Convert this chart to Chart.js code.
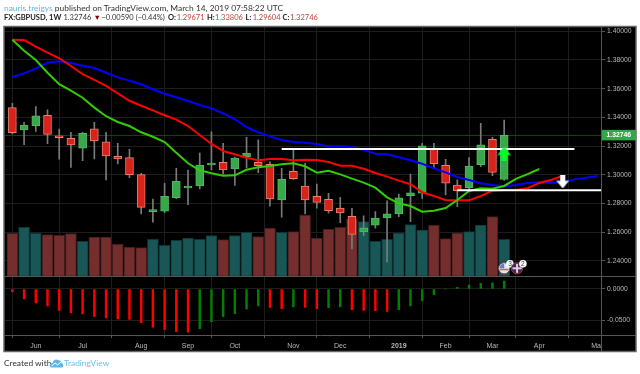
<!DOCTYPE html>
<html><head><meta charset="utf-8">
<style>
html,body{margin:0;padding:0;background:#fff;width:640px;height:374px;overflow:hidden;font-family:Lato,"Liberation Sans",Arial,sans-serif}
canvas{position:absolute;left:0;top:0}
.t{position:absolute;white-space:nowrap;font-size:7.5px;line-height:10px;color:#333;z-index:2}
.b{font-weight:bold;color:#222}.r{color:#c8403c}
</style>
<script src="https://cdn.jsdelivr.net/npm/chart.js@4"></script>
</head><body>
<div class="t" style="left:4px;top:3px;font-size:8.4px"><span style="color:#5fb8e8">nauris.treigys</span> published on TradingView.com, March 14, 2019 07:58:22 UTC</div>
<div class="t b" style="left:4px;top:13px">FX:GBPUSD, 1W</div>
<div class="t" style="left:63.5px;top:13px">1.32746</div>
<div class="t" style="left:93.5px;top:13px;color:#8b0000">▼</div>
<div class="t" style="left:101.5px;top:13px">−0.00590 (−0.44%)</div>
<div class="t b" style="left:168px;top:13px">O:</div><div class="t r" style="left:176.7px;top:13px">1.29671</div>
<div class="t b" style="left:207px;top:13px">H:</div><div class="t r" style="left:215px;top:13px">1.33806</div>
<div class="t b" style="left:245.5px;top:13px">L:</div><div class="t r" style="left:252.7px;top:13px">1.29604</div>
<div class="t b" style="left:282.5px;top:13px">C:</div><div class="t r" style="left:290px;top:13px">1.32746</div>
<div class="t" style="left:4px;top:358px;font-size:8.4px">Created with</div>
<svg style="position:absolute;left:49px;top:358px;z-index:2" width="15" height="11" viewBox="0 0 15 11"><path d="M1 9 C0 6 2 5 3.5 5 C4 2 7 0.5 9 2 C11 2 12.5 3.5 12.5 5 C14.5 5.5 15 8 13.5 9.5 L2 9.5Z" fill="#5fb8e8"/><path d="M2.5 8 L6 5 L8.5 7 L12 4" stroke="#fff" stroke-width="1" fill="none"/></svg>
<div class="t" style="left:64px;top:358px;font-size:8.4px;color:#6cc0e6">TradingView</div>
<canvas id="c" width="640" height="374"></canvas>
<script>
const opens=[1.3468,1.3312,1.3342,1.3415,1.3265,1.3254,1.3185,1.3321,1.3229,1.3129,1.3119,1.3001,1.2743,1.2746,1.2840,1.2908,1.2922,1.3068,1.3087,1.3040,1.3126,1.3087,1.3073,1.2824,1.3024,1.2922,1.2850,1.2829,1.2768,1.2711,1.2601,1.2648,1.2699,1.2727,1.2854,1.2871,1.3185,1.3066,1.2929,1.2908,1.3070,1.3247,1.29671];
const closes=[1.3293,1.3347,1.3410,1.3282,1.3258,1.3208,1.3289,1.3236,1.3131,1.3110,1.3001,1.2773,1.2755,1.2850,1.2955,1.2922,1.3068,1.3082,1.3033,1.3117,1.3152,1.3063,1.2831,1.2968,1.2973,1.2824,1.2808,1.2750,1.2734,1.2585,1.2631,1.2699,1.2727,1.2840,1.2875,1.3201,1.3077,1.2941,1.2889,1.3061,1.3208,1.3017,1.32746];
const highs=[1.3498,1.3366,1.3475,1.3452,1.3319,1.3296,1.3295,1.3366,1.3296,1.3219,1.3178,1.3010,1.2831,1.2941,1.3045,1.3033,1.3152,1.3300,1.3219,1.3124,1.3261,1.3243,1.3091,1.3045,1.3173,1.3080,1.2936,1.2871,1.2843,1.2766,1.2713,1.2743,1.2819,1.2866,1.3005,1.3219,1.3219,1.3108,1.2964,1.3119,1.3359,1.3261,1.33806];
const lows=[1.3284,1.3210,1.3303,1.3217,1.3108,1.3052,1.3098,1.3110,1.2964,1.3075,1.2980,1.2727,1.2669,1.2736,1.2833,1.2791,1.2901,1.3033,1.3005,1.2925,1.3047,1.3014,1.2782,1.2704,1.2968,1.2727,1.2768,1.2732,1.2666,1.2483,1.2575,1.2627,1.2392,1.2708,1.2673,1.2836,1.3049,1.2859,1.2778,1.2894,1.3056,1.2993,1.29604];
const blueLine=[1.3681,1.3707,1.3742,1.3781,1.3791,1.3779,1.3760,1.3744,1.3711,1.3679,1.3656,1.3631,1.3596,1.3565,1.3540,1.3514,1.3486,1.3463,1.3428,1.3387,1.3333,1.3296,1.3268,1.3242,1.3228,1.3224,1.3215,1.3198,1.3198,1.3194,1.3175,1.3147,1.3143,1.3122,1.3101,1.3077,1.3045,1.3017,1.2985,1.2964,1.2941,1.2929,1.2920,1.2929,1.2943,1.2948,1.2943,1.2948,1.2968,1.2980,1.2992];
const redLine=[1.3941,1.3939,1.3893,1.3851,1.3812,1.3758,1.3702,1.3661,1.3619,1.3568,1.3516,1.3481,1.3449,1.3415,1.3384,1.3340,1.3277,1.3215,1.3166,1.3143,1.3119,1.3101,1.3110,1.3110,1.3101,1.3105,1.3103,1.3089,1.3063,1.3063,1.3042,1.3012,1.2987,1.2959,1.2934,1.2878,1.2852,1.2824,1.2822,1.2822,1.2852,1.2889,1.2894,1.2894,1.2906,1.2943,1.2964,1.2992];
const greenLine=[1.3941,1.3865,1.3800,1.3711,1.3631,1.3586,1.3537,1.3468,1.3408,1.3368,1.3340,1.3296,1.3265,1.3228,1.3154,1.3080,1.3031,1.3010,1.2994,1.2996,1.3035,1.3052,1.3061,1.3073,1.3080,1.3059,1.3015,1.3028,1.3003,1.2973,1.2945,1.2910,1.2843,1.2801,1.2782,1.2743,1.2750,1.2768,1.2824,1.2887,1.2906,1.2903,1.2922,1.2971,1.3005,1.3040];
const volumes=[43,49,43,41.7,41,42.7,35,39.3,39.3,32.3,29.3,28.7,37,31,36,38.3,37,40.7,36.7,40.7,44,39.7,48.3,44,44.7,61.3,38.3,47.3,49,57.3,54.7,35,37,43.3,51.7,46.3,51.3,37.7,43.3,44.7,51.3,59.7,37];
const histValues=[-0.0043,-0.0161,-0.0226,-0.0274,-0.0344,-0.0387,-0.0403,-0.0446,-0.0468,-0.0484,-0.0489,-0.0543,-0.0613,-0.0656,-0.0688,-0.0694,-0.0640,-0.0527,-0.0446,-0.0398,-0.0323,-0.0274,-0.0295,-0.0317,-0.0290,-0.0295,-0.0317,-0.0301,-0.0285,-0.0333,-0.0344,-0.0349,-0.0360,-0.0333,-0.0274,-0.0188,-0.0091,0,0.0027,0.0064,0.0091,0.0097,0.0129];
const histRising=[0,0,0,0,0,0,0,0,0,0,0,0,0,0,0,0,1,1,1,1,1,1,0,0,1,0,0,1,1,0,0,0,0,1,1,1,1,1,1,1,1,1,1];
const monthIndex=[2,6,11,15,19,24,28,33,37,41,45,50];
const monthLabels=["Jun","Jul","Aug","Sep","Oct","Nov","Dec","2019","Feb","Mar","Apr","May"];
const priceTicks=[1.24,1.26,1.28,1.30,1.32,1.34,1.36,1.38,1.40];
const macdTicks=[-0.05,0];
const lastPrice=1.32746;
const upperLevel=[[23,1.3180],[48,1.3180]];
const lowerLevel=[[38,1.2893],[50.27,1.2893]];
const upArrow=[[42,1.3147]];
const downArrow=[[47,1.2950]];
const eventIndex=[42,43];
const eventCounts=["3","2"];

const pts=a=>a.map((v,i)=>({x:i,y:v}));
const pair=a=>a.map(p=>({x:p[0],y:p[1]}));
const isUp=i=>closes[i]>=opens[i];
function arrow(color,up,w,h){
  const c=document.createElement('canvas');c.width=w;c.height=h;const g=c.getContext('2d');
  if(!up){g.translate(0,h);g.scale(1,-1);}
  g.fillStyle=color;g.beginPath();
  const m=w/2,hh=h*0.62,s=w*0.2;
  g.moveTo(m,0);g.lineTo(w,hh);g.lineTo(m+s,hh*0.92);g.lineTo(m+s,h);g.lineTo(m-s,h);g.lineTo(m-s,hh*0.92);g.lineTo(0,hh);g.closePath();g.fill();
  return c;
}
const line=(data,color,order,w)=>({type:'line',data,borderColor:color,borderWidth:w||2,pointRadius:0,order,yAxisID:'y',tension:0,fill:false,borderCapStyle:'butt'});
const panes={
 id:'panes',
 beforeDraw(ch){const g=ch.ctx;g.save();g.fillStyle='#000';g.fillRect(4,26,632,326);g.restore();},
 afterDraw(ch){
  const g=ch.ctx,y=ch.scales.y,x=ch.scales.x,A=ch.chartArea;
  g.save();
  g.fillStyle='#000';g.fillRect(A.right+1,A.bottom+1,34,15);
  g.strokeStyle='#555';g.lineWidth=1;
  g.beginPath();
  g.moveTo(A.left,Math.round(y.bottom)+.5);g.lineTo(636,Math.round(y.bottom)+.5);
  g.moveTo(A.left,A.bottom+.5);g.lineTo(636,A.bottom+.5);
  g.moveTo(A.right+.5,26);g.lineTo(A.right+.5,352);
  g.stroke();
  g.lineWidth=1.5;g.strokeStyle='#666';g.strokeRect(4,26.5,632,325);
  const ly=y.getPixelForValue(lastPrice);
  g.fillStyle='#35a64a';g.fillRect(A.right+1,ly-5.5,34,10.5);
  g.fillStyle='#fff';g.font='bold 6.8px "Liberation Sans"';g.textBaseline='middle';g.textAlign='left';
  g.fillText(lastPrice.toFixed(5),A.right+5.5,ly-.3);
  const base=y.bottom-8;
  eventIndex.forEach((e,k)=>{
    const px=x.getPixelForValue(e)+k*1.2,py=base;
    g.beginPath();g.arc(px,py,5.6,0,7);g.fillStyle=k?'#27306e':'#dfe6f2';g.fill();
    g.lineWidth=1;g.strokeStyle='#a8323a';g.stroke();
    g.save();g.beginPath();g.arc(px,py,4.6,0,7);g.clip();
    if(k){g.fillStyle='#f4c8cc';g.fillRect(px-5,py-1,10,2);g.fillRect(px-1,py-5,2,10);}
    else{g.fillStyle='#e35a5a';g.fillRect(px-5,py+.5,10,1.5);g.fillStyle='#4a86d8';g.fillRect(px-5,py-5,5,5);}
    g.restore();
    g.beginPath();g.arc(px+5.8,py-4.5,3.8,0,7);g.fillStyle='#fff';g.fill();
    g.fillStyle='#333';g.font='6.5px "Liberation Sans"';g.textAlign='center';g.fillText(eventCounts[k],px+5.8,py-4.3);
  });
  g.restore();
 }
};
new Chart(document.getElementById('c'),{
 type:'bar',
 data:{datasets:[
  {data:pts(volumes),yAxisID:'vol',order:20,grouped:false,barThickness:11,borderWidth:1,borderSkipped:false,
   backgroundColor:c=>isUp(c.dataIndex)?'#195656':'#752e2e',borderColor:c=>isUp(c.dataIndex)?'#0e3535':'#3e1a1a'},
  {data:pts(histValues),yAxisID:'macd',order:19,grouped:false,barThickness:1.8,
   backgroundColor:c=>histRising[c.dataIndex]?'#008000':'#ff0000'},
  line(pair([[-0.63,lastPrice],[50.27,lastPrice]]),'#1c451c',18,1),
  {data:lows.map((l,i)=>({x:i,y:[l,highs[i]]})),yAxisID:'y',order:17,grouped:false,barThickness:1,backgroundColor:'#7a7a7a'},
  {data:opens.map((o,i)=>({x:i,y:[o,closes[i]]})),yAxisID:'y',order:16,grouped:false,barThickness:8,minBarLength:2,borderWidth:1,borderSkipped:false,
   backgroundColor:c=>isUp(c.dataIndex)?'#38a84a':'#d8231c',borderColor:c=>isUp(c.dataIndex)?'#52b863':'#e8806a'},
  line(pts(blueLine),'#0000ff',5),
  line(pts(redLine),'#ff0000',4),
  line(pts(greenLine),'#33cc00',3),
  line(pair(upperLevel),'#ffffff',2),
  line(pair(lowerLevel),'#ffffff',2),
  {type:'scatter',data:pair(upArrow),yAxisID:'y',order:1,pointStyle:arrow('#00ff2a',true,14,14),pointRadius:7},
  {type:'scatter',data:pair(downArrow),yAxisID:'y',order:1,pointStyle:arrow('#ffffff',false,13,13),pointRadius:7}
 ]},
 options:{
  responsive:false,animation:false,
  layout:{autoPadding:false,padding:{left:5,right:4,top:27,bottom:23}},
  plugins:{legend:{display:false},tooltip:{enabled:false},title:{display:false}},
  scales:{
   x:{type:'linear',min:-0.63,max:50.27,offset:false,
    afterBuildTicks:s=>{s.ticks=monthIndex.map(v=>({value:v}));},
    afterFit:s=>{s.height=16;s.paddingLeft=0;s.paddingRight=0;},
    grid:{color:'#1d1d1d',lineWidth:1,tickLength:3,tickColor:'#555',drawTicks:true},
    border:{display:false},
    ticks:{autoSkip:false,maxRotation:0,minRotation:0,padding:3.5,color:'#b8b8b8',
     font:c=>({family:'"Liberation Sans"',size:7,weight:monthLabels[monthIndex.indexOf(c.tick&&c.tick.value)]==="2019"?'bold':'normal'}),
     callback:v=>monthLabels[monthIndex.indexOf(v)]}},
   y:{position:'right',stack:'right',stackWeight:249.3,min:1.22924,max:1.40300,
    afterBuildTicks:s=>{s.ticks=priceTicks.map(v=>({value:v}));},
    afterFit:s=>{s.width=35;},
    grid:{color:'#1d1d1d',lineWidth:1,tickLength:4,tickColor:'#555'},
    border:{color:'#444',width:1},
    ticks:{padding:2,color:'#b8b8b8',font:{family:'"Liberation Sans"',size:6.8},autoSkip:false,callback:v=>v.toFixed(5)}},
   macd:{position:'right',stack:'right',stackWeight:58.7,min:-0.0741,max:0.0204,
    afterBuildTicks:s=>{s.ticks=macdTicks.map(v=>({value:v}));},
    afterFit:s=>{s.width=35;},
    grid:{color:'#1d1d1d',lineWidth:1,tickLength:4,tickColor:'#555'},
    border:{color:'#444',width:1},
    ticks:{padding:2,color:'#b8b8b8',font:{family:'"Liberation Sans"',size:6.8},autoSkip:false,callback:v=>v.toFixed(4)}},
   vol:{display:false,position:'left',min:-58.7,max:249.3}
  }
 },
 plugins:[panes]
});
</script>
</body></html>
